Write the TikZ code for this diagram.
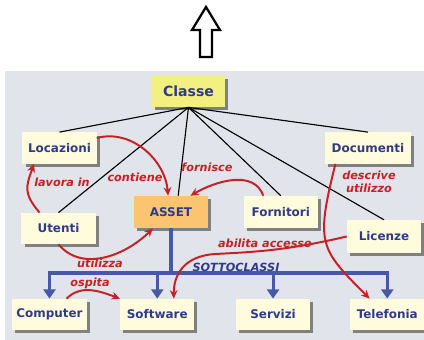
\documentclass[tikz,border=0pt]{standalone}
\usepackage{fontspec}
\setmainfont{DejaVu Sans}
\usetikzlibrary{arrows.meta, positioning, shadows}
\definecolor{panelgray}{RGB}{225,229,235}
\definecolor{boxcream}{RGB}{255,252,222}
\definecolor{classyellow}{RGB}{242,240,128}
\definecolor{assetorange}{RGB}{250,196,112}
\definecolor{textblue}{RGB}{48,58,138}
\definecolor{busblue}{RGB}{72,88,168}
\definecolor{relred}{RGB}{200,32,36}

\begin{document}
\begin{tikzpicture}[
        x=0.025cm, y=0.025cm,
        box/.style={rectangle, fill=boxcream, minimum width=1.85cm, minimum height=0.78cm, align=center, font=\bfseries\fontsize{8.5}{10}\selectfont, text=textblue, drop shadow={shadow xshift=0.08cm, shadow yshift=-0.08cm, fill=black!50, opacity=1}},
        rel/.style={-{Stealth[length=6pt, width=5.5pt]}, line width=1.4pt, relred},
        rellabel/.style={font=\bfseries\itshape\fontsize{8}{9.2}\selectfont, text=relred, inner sep=1pt},
        bus/.style={line width=2.2pt, busblue},
        link/.style={line width=0.8pt, black}
    ]
        \useasboundingbox (0,0) rectangle (424,-340);
        \fill[panelgray] (5,-71) rectangle (424,-340);
        % outline arrow on top
        \draw[line width=1.6pt, line join=miter] (206,-7) -- (220,-30) -- (212,-30) -- (212,-57) -- (200,-57) -- (200,-30) -- (192,-30) -- cycle;

        \node[box, fill=classyellow, minimum width=1.82cm, font=\bfseries\fontsize{10}{12}\selectfont] (classe) at (188.5,-91.5) {Classe};
        \node[box] (locazioni) at (59.5,-148) {Locazioni};
        \node[box, minimum width=2.15cm] (documenti) at (368,-148) {Documenti};
        \node[box] (utenti) at (58.5,-228.5) {Utenti};
        \node[box, fill=assetorange, minimum height=0.8cm] (asset) at (171,-212) {ASSET};
        \node[box, minimum height=0.8cm, right=0.88cm of asset] (fornitori) {Fornitori};
        \node[box, minimum height=0.82cm] (licenze) at (384,-236.5) {Licenze};
        \node[box] (computer) at (49.5,-314.5) {Computer};
        \node[box, right=0.81cm of computer] (software) {Software};
        \node[box, right=1.03cm of software] (servizi) {Servizi};
        \node[box, right=0.99cm of servizi] (telefonia) {Telefonia};

        \foreach \n in {locazioni, utenti, fornitori, licenze, documenti}
            \draw[link] (classe.south) -- (\n.north);
        \draw[link] (classe.south) -- ([xshift=0.18cm]asset.north);

        % subclasses
        \coordinate (busy) at (171,-273);
        \draw[bus] (asset.south) -- (busy);
        \draw[bus, line cap=rect] (computer.north |- busy) -- (telefonia.north |- busy);
        \foreach \n in {computer, software, servizi, telefonia}
            \draw[bus, -{Triangle[length=6.5pt, width=8.5pt]}] (\n.north |- busy) -- (\n.north);
        \node[font=\bfseries\itshape\fontsize{8}{9.6}\selectfont, text=textblue, inner sep=1pt] (sotto) at (236,-267) {SOTTOCLASSI};

        \draw[rel] (locazioni.15) to[out=15, in=95] (asset.100);
        \draw[rel] (utenti.140) to[out=130, in=250, looseness=1.3] (locazioni.212);
        \draw[rel] (fornitori.137) to[out=110, in=30] (asset.40);
        \draw[rel] (utenti.south) to[out=-50, in=225] (asset.222);
        \draw[rel] (licenze.west) .. controls +(-60,-14) and +(40,2) .. (215,-254)
            .. controls +(-30,-2) and +(0,25) .. (software.44);
        \draw[rel] (documenti.206) .. controls +(-20,-80) and +(-50,50) .. (telefonia.138);
        \draw[rel] (computer.43) to[out=45, in=160] (software.north west);

        \node[rellabel] (contiene) at (135,-177) {contiene};
        \node[rellabel] (lavora) at (62,-182) {lavora in};
        \node[rellabel] (fornisce) at (207,-167) {fornisce};
        \node[rellabel] (utilizza) at (100,-263) {utilizza};
        \node[rellabel] (abilita) at (265,-243) {abilita accesso};
        \node[rellabel, align=center] (descrive) at (369,-182) {descrive\\utilizzo};
        \node[rellabel] (ospita) at (90,-283) {ospita};
    \end{tikzpicture}
\end{document}
